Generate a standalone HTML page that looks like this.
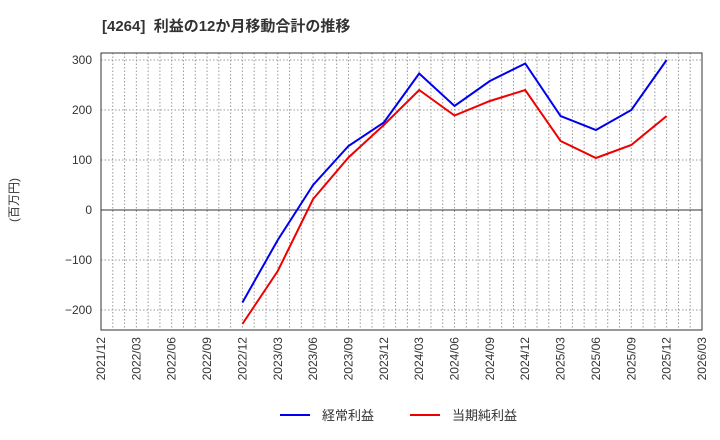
<!DOCTYPE html>
<html><head><meta charset="utf-8"><style>
body{margin:0;background:#fff;}
svg{display:block;font-family:"Liberation Sans","Noto Sans CJK JP",sans-serif;}
</style></head><body>
<svg id="c" width="720" height="440" xmlns="http://www.w3.org/2000/svg">
<text x="102" y="31" font-size="15" font-weight="bold" fill="#333">[4264]&#160; 利益の12か月移動合計の推移</text>
<text transform="translate(18,200) rotate(-90)" font-size="12" fill="#333" text-anchor="middle">(百万円)</text>
<g id="g"></g>
<line x1="280" y1="415" x2="310" y2="415" stroke="#0000ee" stroke-width="2"/>
<text x="322" y="420" font-size="13" fill="#333">経常利益</text>
<line x1="410" y1="415" x2="440" y2="415" stroke="#ee0000" stroke-width="2"/>
<text x="452" y="420" font-size="13" fill="#333">当期純利益</text>
</svg>
<script>
var L=101,R=702,T=53,B=330,g=document.getElementById('g'),s='';
var dx=(R-L)/17;
function Y(v){return 210-v*0.5;}
for(var i=1;i<51;i++){var x=L+i*dx/3;s+='<line x1="'+x+'" y1="'+T+'" x2="'+x+'" y2="'+B+'" stroke="#999" stroke-width="1" stroke-dasharray="1.5,2"/>';}
[-200,-100,100,200,300].forEach(function(v){s+='<line x1="'+L+'" y1="'+Y(v)+'" x2="'+R+'" y2="'+Y(v)+'" stroke="#999" stroke-dasharray="1.5,2"/>';});
s+='<line x1="'+L+'" y1="210" x2="'+R+'" y2="210" stroke="#333"/>';
s+='<rect x="'+L+'" y="'+T+'" width="'+(R-L)+'" height="'+(B-T)+'" fill="none" stroke="#333"/>';
[-200,-100,0,100,200,300].forEach(function(v){s+='<text x="92" y="'+(Y(v)+4)+'" font-size="12" fill="#333" text-anchor="end">'+(v<0?'\u2212'+(-v):v)+'</text>';});
var labs=[];for(var y=2021;y<=2026;y++)for(var m of ['03','06','09','12'])labs.push(y+'/'+m);
labs=labs.slice(3,21);
labs.forEach(function(t,i){var x=L+i*dx+4;s+='<text transform="translate('+x+',337) rotate(-90)" font-size="12" fill="#333" text-anchor="end">'+t+'</text>';});
function line(d,c){var p=d.map(function(v,i){return (L+(i+4)*dx)+','+Y(v);}).join(' ');s+='<polyline points="'+p+'" fill="none" stroke="'+c+'" stroke-width="2"/>';}
line([-185,-60,50,128,175,273,208,258,293,188,160,200,300],'#0000ee');
line([-228,-122,22,105,170,240,189,218,240,138,104,130,188],'#ee0000');
g.innerHTML=s;
</script>
</body></html>
